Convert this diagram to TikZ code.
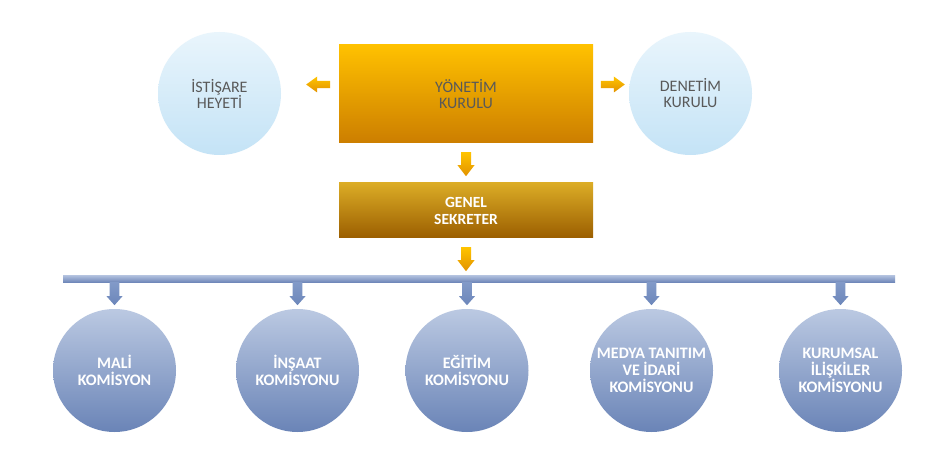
\documentclass[tikz,border=0pt]{standalone}
\usepackage{fontspec}
\setmainfont{Carlito}
\usetikzlibrary{calc}
\definecolor{txtgray}{RGB}{89,89,89}
\definecolor{lbtop}{RGB}{233,245,252}
\definecolor{lbbot}{RGB}{196,227,246}
\definecolor{yktop}{RGB}{255,193,0}
\definecolor{ykbot}{RGB}{204,126,0}
\definecolor{gstop}{RGB}{219,172,38}
\definecolor{gsbot}{RGB}{155,94,0}
\definecolor{oatop}{RGB}{255,196,0}
\definecolor{oabot}{RGB}{226,146,0}
\definecolor{bbtop}{RGB}{181,196,224}
\definecolor{bbbot}{RGB}{112,136,186}
\definecolor{batop}{RGB}{130,154,200}
\definecolor{babot}{RGB}{108,134,186}
\definecolor{bctop}{RGB}{187,201,226}
\definecolor{bcbot}{RGB}{106,132,183}
\tikzset{
  lightcircle/.style={circle,minimum size=123pt,inner sep=0pt,draw=none,
    top color=lbtop,bottom color=lbbot,text=txtgray,align=center,
    font=\fontsize{16}{16}\selectfont},
  bluecircle/.style={circle,minimum size=123pt,inner sep=0pt,draw=none,
    top color=bctop,bottom color=bcbot,text=white,align=center,
    font=\bfseries\fontsize{16}{16.8}\selectfont},
  ykbox/.style={rectangle,minimum width=254pt,minimum height=98pt,inner sep=0pt,
    top color=yktop,bottom color=ykbot,text=txtgray,align=center,
    font=\fontsize{16}{16}\selectfont},
  gsbox/.style={rectangle,minimum width=254pt,minimum height=55pt,inner sep=0pt,
    top color=gstop,bottom color=gsbot,text=white,align=center,
    font=\bfseries\fontsize{15.5}{17}\selectfont},
  barbox/.style={rectangle,minimum width=832pt,minimum height=7pt,inner sep=0pt,
    top color=bbtop,bottom color=bbbot},
  orangefill/.style={top color=oatop,bottom color=oabot},
  bluefill/.style={top color=batop,bottom color=babot},
  pics/odown/.style={code={\path[orangefill] (-5,0) -- (5,0) -- (5,13) -- (8.5,13)
      -- (0,24) -- (-8.5,13) -- (-5,13) -- cycle;}},
  pics/bdown/.style={code={\path[bluefill] (-4.8,0) -- (4.8,0) -- (4.8,14) -- (8,14)
      -- (0,23) -- (-8,14) -- (-4.8,14) -- cycle;}},
  pics/oleft/.style={code={\path[orangefill] (0,0) -- (11,-8) -- (11,-3.7) -- (24,-3.7)
      -- (24,3.7) -- (11,3.7) -- (11,8) -- cycle;}},
  pics/oright/.style={code={\path[orangefill] (0,0) -- (-11,-8) -- (-11,-3.7) -- (-24,-3.7)
      -- (-24,3.7) -- (-11,3.7) -- (-11,8) -- cycle;}},
}
\begin{document}
\begin{tikzpicture}[x=1pt,y=-1pt]
\path[fill=white] (0,0) rectangle (948,457);
\useasboundingbox (0,0) rectangle (948,457);
% top row
\node[ykbox] (yk) at (466,94) {YÖNETİM\\KURULU};
\node[lightcircle] (ih) at (219.5,93.5) {İSTİŞARE\\HEYETİ};
\node[lightcircle] (dk) at (690.5,93.5) {DENETİM\\KURULU};
\node[gsbox] (gs) at (466,210.5) {GENEL\\SEKRETER};
\node[barbox] (bar) at (479,278.5) {};
% bottom circles
\node[bluecircle] (c1) at (114.5,370.5) {MALİ\\KOMİSYON};
\node[bluecircle] (c2) at (297.5,370.5) {İNŞAAT\\KOMİSYONU};
\node[bluecircle] (c3) at (467,370.5) {EĞİTİM\\KOMİSYONU};
\node[bluecircle] (c4) at (651.5,370.5) {MEDYA TANITIM\\VE İDARİ\\KOMİSYONU};
\node[bluecircle] (c5) at (840.5,370.5) {KURUMSAL\\İLİŞKİLER\\KOMİSYONU};
% orange connectors
\pic at ($(ih.east)+(25,-9)$) {oleft};
\pic at ($(dk.west)+(-4,-9)$) {oright};
\pic at ($(yk.south)+(0,9)$) {odown};
\pic at ($(gs.south)+(0,9)$) {odown};
% blue connectors
\foreach \c in {c1,c2,c3,c4,c5}{
  \pic at (bar.south -| \c.north) {bdown};
}
\end{tikzpicture}
\end{document}
